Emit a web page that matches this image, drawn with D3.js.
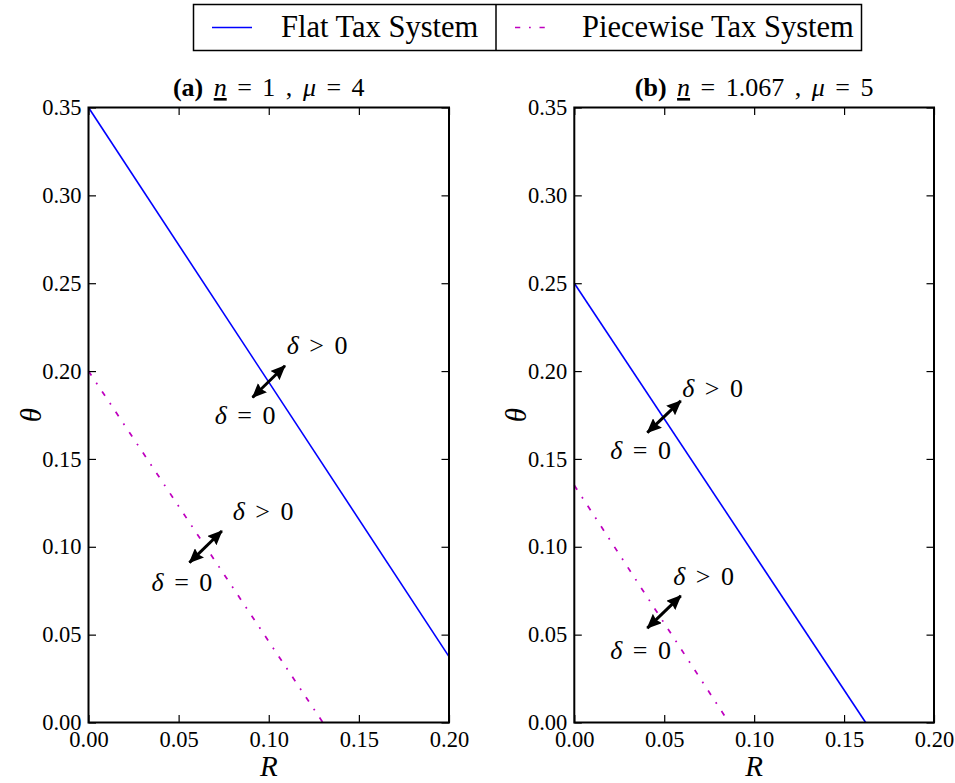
<!DOCTYPE html>
<html>
<head>
<meta charset="utf-8">
<script src="https://cdn.jsdelivr.net/npm/d3@7"></script>
<style>
  html, body { margin: 0; padding: 0; background: #fff; }
  svg { display: block; }
  svg text { font-family: "Liberation Serif", "DejaVu Serif", serif; fill: #000; }
</style>
</head>
<body>
<svg id="chart" width="955" height="783"></svg>
<script>
// ---- data ----
const xTicks = [0, 0.05, 0.10, 0.15, 0.20];
const yTicks = [0, 0.05, 0.10, 0.15, 0.20, 0.25, 0.30, 0.35];

// panel (a): n = 1, mu = 4
const flatR_a = [0, 0.20];
const flatTheta_a = [0.35, 0.0375];
const pieceR_a = [0, 0.13];
const pieceTheta_a = [0.20, 0];

// panel (b): n = 1.067, mu = 5
const flatR_b = [0, 0.162];
const flatTheta_b = [0.25, 0];
const pieceR_b = [0, 0.086];
const pieceTheta_b = [0.135, 0];

// double arrows showing direction of increasing delta: [R0, theta0, R1, theta1]
const arrows_a = [[0.091, 0.185, 0.109, 0.203], [0.056, 0.091, 0.074, 0.109]];
const arrows_b = [[0.0406, 0.165, 0.0592, 0.183], [0.0406, 0.0537, 0.0592, 0.0721]];

// annotation labels: [R, theta, text]
const notes_a = [[0.11, 0.21, "δ > 0"], [0.07, 0.17, "δ = 0"],
                 [0.08, 0.115, "δ > 0"], [0.035, 0.075, "δ = 0"]];
const notes_b = [[0.06, 0.185, "δ > 0"], [0.02, 0.15, "δ = 0"],
                 [0.055, 0.078, "δ > 0"], [0.02, 0.036, "δ = 0"]];

const seriesNames = ["Flat Tax System", "Piecewise Tax System"];
const seriesColors = ["#0000ff", "#bf00bf"];
const dashDot = "5.25,8.75,1.75,8.75";

// ---- layout ----
const svg = d3.select("#chart");
const plotTop = 107.5, plotBottom = 722.5;

// arrowhead marker
const defs = svg.append("defs");
defs.append("marker")
  .attr("id", "head")
  .attr("viewBox", "0 0 15 13")
  .attr("refX", 14).attr("refY", 6.5)
  .attr("markerUnits", "userSpaceOnUse")
  .attr("markerWidth", 15).attr("markerHeight", 13)
  .attr("orient", "auto-start-reverse")
  .append("path").attr("d", "M0,0 L15,6.5 L0,13 L2,6.5 Z").attr("fill", "#000");

function panel(cfg) {
  const x = d3.scaleLinear().domain([0, 0.20]).range([cfg.left, cfg.right]);
  const y = d3.scaleLinear().domain([0, 0.35]).range([plotBottom, plotTop]);
  const g = svg.append("g");

  const line = d3.line().x(d => x(d[0])).y(d => y(d[1]));

  // series lines
  g.append("path").datum(d3.zip(cfg.flatR, cfg.flatTheta))
    .attr("d", line).attr("fill", "none")
    .attr("stroke", seriesColors[0]).attr("stroke-width", 1.6);
  g.append("path").datum(d3.zip(cfg.pieceR, cfg.pieceTheta))
    .attr("d", line).attr("fill", "none")
    .attr("stroke", seriesColors[1]).attr("stroke-width", 1.75)
    .attr("stroke-dasharray", dashDot);

  // arrows
  g.selectAll(".arr").data(cfg.arrows).enter().append("line")
    .attr("x1", d => x(d[0])).attr("y1", d => y(d[1]))
    .attr("x2", d => x(d[2])).attr("y2", d => y(d[3]))
    .attr("stroke", "#000").attr("stroke-width", 3)
    .attr("marker-start", "url(#head)").attr("marker-end", "url(#head)");

  // annotation text
  g.selectAll(".note").data(cfg.notes).enter().append("text")
    .attr("x", d => x(d[0])).attr("y", d => y(d[1]))
    .style("font-size", "26px").style("word-spacing", "4px")
    .each(function(d) {
      const t = d3.select(this);
      t.append("tspan").style("font-style", "italic").text(d[2].slice(0, 1));
      t.append("tspan").text(d[2].slice(1));
    });

  // axes with inward ticks on all four sides
  const fmt = d3.format(".2f");
  const ax = [
    [d3.axisBottom(x).tickValues(xTicks).tickFormat(fmt).tickPadding(9), `translate(0,${plotBottom})`],
    [d3.axisTop(x).tickValues(xTicks).tickFormat(""), `translate(0,${plotTop})`],
    [d3.axisLeft(y).tickValues(yTicks).tickFormat(fmt).tickPadding(7), `translate(${cfg.left},0)`],
    [d3.axisRight(y).tickValues(yTicks).tickFormat(""), `translate(${cfg.right},0)`]
  ];
  ax.forEach(([a, tr]) => {
    const ag = g.append("g").attr("transform", tr)
      .call(a.tickSizeInner(-7.5).tickSizeOuter(0));
    ag.attr("font-family", null).attr("font-size", null);
    ag.select(".domain").remove();
    ag.selectAll(".tick line").attr("stroke", "#000").attr("stroke-width", 1.2);
    ag.selectAll("text").style("font-size", "22.5px").attr("fill", "#000");
  });

  // frame
  g.append("rect")
    .attr("x", cfg.left).attr("y", plotTop)
    .attr("width", cfg.right - cfg.left).attr("height", plotBottom - plotTop)
    .attr("fill", "none").attr("stroke", "#000").attr("stroke-width", 2);

  // title
  const cx = (cfg.left + cfg.right) / 2;
  const title = g.append("text").attr("x", cx).attr("y", 96)
    .attr("text-anchor", "middle").style("font-size", "26px").style("word-spacing", "4px");
  title.append("tspan").style("font-weight", "bold").text(cfg.tag + " ");
  title.append("tspan").style("font-style", "italic")
    .style("text-decoration", "underline").text("n");
  title.append("tspan").text(" = " + cfg.n + " , ");
  title.append("tspan").style("font-style", "italic").text("μ");
  title.append("tspan").text(" = " + cfg.mu);

  // axis labels
  g.append("text").attr("x", cx).attr("y", 776)
    .attr("text-anchor", "middle").style("font-size", "29px")
    .style("font-style", "italic").text("R");
  g.append("text")
    .attr("transform", `translate(${cfg.left - 48},415) rotate(-90)`)
    .attr("text-anchor", "middle").style("font-size", "29px")
    .style("font-style", "italic").text("θ");
}

panel({ left: 88.5, right: 449, tag: "(a)", n: "1", mu: "4",
        flatR: flatR_a, flatTheta: flatTheta_a, pieceR: pieceR_a, pieceTheta: pieceTheta_a,
        arrows: arrows_a, notes: notes_a });
panel({ left: 574.3, right: 934, tag: "(b)", n: "1.067", mu: "5",
        flatR: flatR_b, flatTheta: flatTheta_b, pieceR: pieceR_b, pieceTheta: pieceTheta_b,
        arrows: arrows_b, notes: notes_b });

// ---- legend ----
const lg = svg.append("g");
lg.append("rect").attr("x", 193.5).attr("y", 4.5).attr("width", 668).attr("height", 46)
  .attr("fill", "#fff").attr("stroke", "#000").attr("stroke-width", 1.5);
lg.append("line").attr("x1", 496).attr("x2", 496).attr("y1", 4.5).attr("y2", 50.5)
  .attr("stroke", "#000").attr("stroke-width", 1.5);
const legendItems = [
  { name: seriesNames[0], color: seriesColors[0], dash: null, x0: 212, x1: 252, tx: 281 },
  { name: seriesNames[1], color: seriesColors[1], dash: dashDot, x0: 515, x1: 548, tx: 582 }
];
legendItems.forEach(it => {
  lg.append("line").attr("x1", it.x0).attr("x2", it.x1).attr("y1", 27.5).attr("y2", 27.5)
    .attr("stroke", it.color).attr("stroke-width", 1.6)
    .attr("stroke-dasharray", it.dash);
  lg.append("text").attr("x", it.tx).attr("y", 36.5).style("font-size", "30.5px").text(it.name);
});
</script>
</body>
</html>
